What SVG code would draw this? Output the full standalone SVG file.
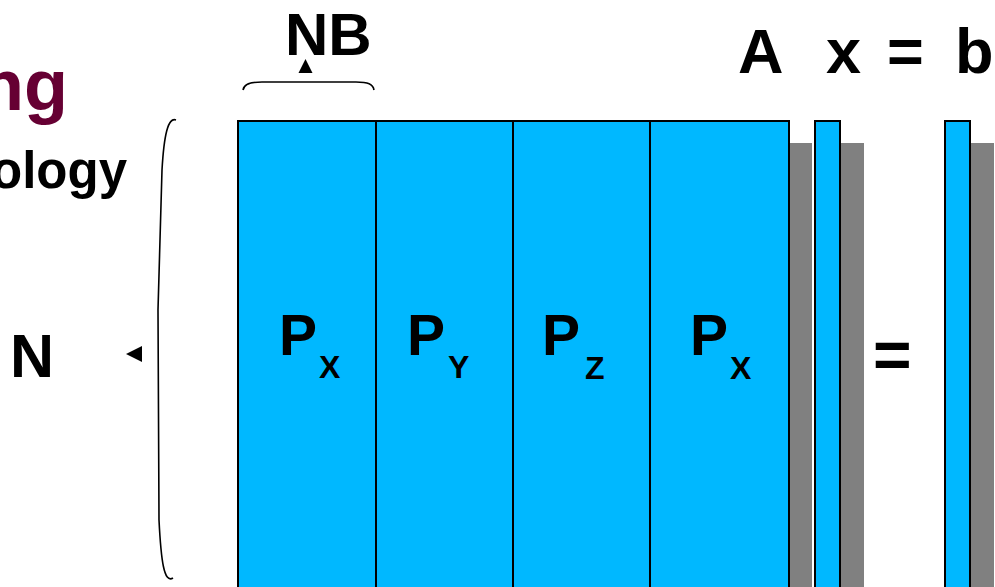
<svg xmlns="http://www.w3.org/2000/svg" width="995" height="587" viewBox="0 0 995 587">
<style>
text{font-family:"Liberation Sans",Arial,sans-serif;font-weight:bold;fill:#000}
.blk{fill:#00b8ff;stroke:#000;stroke-width:2}
.sh{fill:#808080}
.div{stroke:#000;stroke-width:2}
.brace{fill:none;stroke:#000;stroke-width:1.6}
.big{font-size:63px}
.p{font-size:57px}
.sub{font-size:32px}
</style>
<rect width="995" height="587" fill="#fff"/>
<g id="titles">
<text x="68" y="110" font-size="72" text-anchor="end" style="fill:#660033">ng</text>
<text x="127" y="188" font-size="51" text-anchor="end">ology</text>
</g>
<g id="equation-label">
<text class="big" x="738" y="73">A</text>
<text class="big" x="826" y="73">x</text>
<text class="big" x="887" y="73">=</text>
<text class="big" x="955" y="73">b</text>
</g>
<g id="label-NB"><text x="285" y="55" font-size="60">NB</text></g>
<g id="label-N"><text x="10" y="377" font-size="61">N</text></g>
<g id="matrix-A">
<rect class="sh" x="260" y="143" width="552" height="460"/>
<rect class="blk" x="238" y="121" width="551" height="480"/>
<line class="div" x1="376" y1="121" x2="376" y2="600"/>
<line class="div" x1="513" y1="121" x2="513" y2="600"/>
<line class="div" x1="650" y1="121" x2="650" y2="600"/>
<text class="p" x="279" y="355">P</text><text class="sub" x="319" y="378">X</text>
<text class="p" x="407" y="355">P</text><text class="sub" x="448" y="378">Y</text>
<text class="p" x="542" y="355">P</text><text class="sub" x="585" y="379">Z</text>
<text class="p" x="690" y="355">P</text><text class="sub" x="730" y="379">X</text>
</g>
<g id="vector-x">
<rect class="sh" x="837" y="143" width="27" height="460"/>
<rect class="blk" x="815" y="121" width="25" height="480"/>
</g>
<g id="equals"><text x="873" y="378" font-size="66">=</text></g>
<g id="vector-b">
<rect class="sh" x="967" y="143" width="27" height="460"/>
<rect class="blk" x="945" y="121" width="25" height="480"/>
</g>
<g id="connectors">
<path class="brace" d="M243,90 C244,84 250,82 262,82 L356,82 C368,82 373,84 374,90"/>
<polygon points="298.5,73 312.5,73 305.5,59" fill="#000"/>
<path class="brace" d="M176,120 C168,117 164,135 162,170 L158,310 L159,520 C161,560 164,584 173,578"/>
<polygon points="126,354 142,346 142,362" fill="#000"/>
</g>
</svg>
